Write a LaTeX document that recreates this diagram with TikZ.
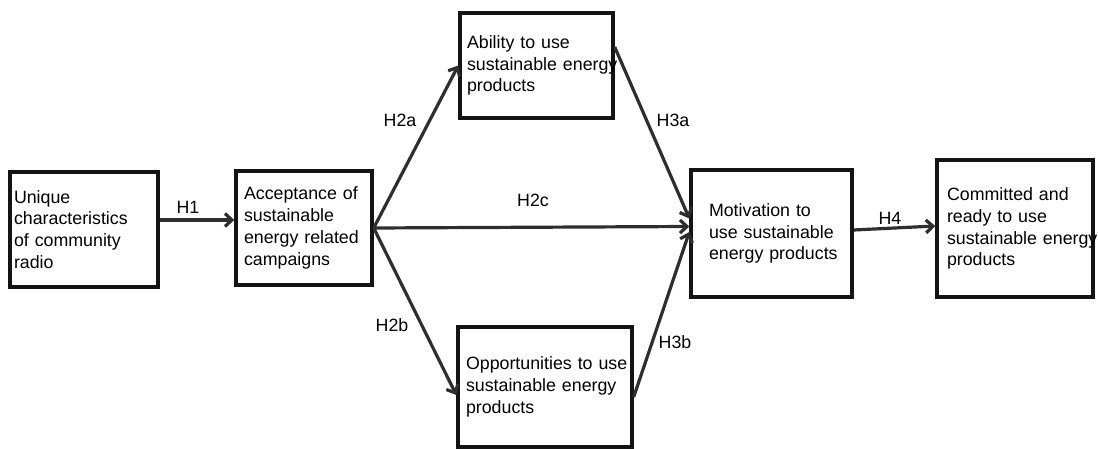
\documentclass[tikz,border=0pt]{standalone}
\usepackage{fontspec}
\setmainfont{Liberation Sans}
\usetikzlibrary{arrows.meta,positioning,calc}
\hyphenpenalty=10000
\exhyphenpenalty=10000
\definecolor{cB}{HTML}{141414}
\definecolor{cG}{HTML}{2e2e2e}
\tikzset{
  cbox/.style={rectangle,draw=cB,line width=3.4pt,fill=white,align=left,
              inner ysep=0pt,font=\fontsize{17.8}{21.8}\selectfont},
  hyparrow/.style={-{Straight Barb[length=7pt,width=13pt]},line width=3.2pt,cG},
  hlabel/.style={inner sep=0pt,font=\fontsize{17.8}{21.8}\selectfont},
}
\begin{document}
\begin{tikzpicture}[x=1pt,y=1pt]
  \useasboundingbox (0,0) rectangle (1098,448);
  \node[cbox,minimum width=148pt,minimum height=115pt,inner xsep=4pt,text width=140pt] (uniq) at (84,218.5) {Unique\\characteristics\\of~community\\radio};
  \node[cbox,minimum width=136pt,minimum height=114pt,inner xsep=8pt,text width=120pt] (accept) at (304,220) {Acceptance~of\\sustainable\\energy~related\\campaigns};
  \node[cbox,minimum width=153pt,minimum height=105pt,inner xsep=7pt,text width=139pt] (abil) at (536.5,382.5) {Ability~to~use\\sustainable~energy\\products};
  \node[cbox,minimum width=174pt,minimum height=120pt,inner xsep=8pt,text width=158pt] (oppo) at (545,61) {Opportunities~to~use\\sustainable~energy\\products};
  \node[cbox,minimum width=161pt,minimum height=127pt,inner xsep=18pt,text width=125pt] (motiv) at (771.5,214.5) {Motivation~to\\use~sustainable\\energy~products};
  \node[cbox,minimum width=156pt,minimum height=137pt,inner xsep=10pt,text width=136pt] (commit) at (1015,219.5) {Committed~and\\ready~to~use\\sustainable~energy\\products};
  % hypotheses
  \draw[hyparrow] ([yshift=9.5pt]uniq.east) -- ([yshift=8pt]accept.west);
  \draw[hyparrow] (accept.east) -- (abil.west);
  \draw[hyparrow] (accept.east) -- ([yshift=7pt]motiv.west);
  \draw[hyparrow] (accept.east) -- ([yshift=-8pt]oppo.west);
  \draw[hyparrow] ([yshift=18.5pt]abil.east) -- ([yshift=15pt]motiv.west);
  \draw[hyparrow] ([yshift=-10pt]oppo.east) -- ([yshift=1.5pt]motiv.west);
  \draw[hyparrow] ([yshift=3.5pt]motiv.east) -- ([yshift=2.5pt]commit.west);
  \node[hlabel] (h1) at (188,241) {H1};
  \node[hlabel] (h2a) at (400,328) {H2a};
  \node[hlabel] (h2c) at (533,248) {H2c};
  \node[hlabel] (h2b) at (392,123) {H2b};
  \node[hlabel] (h3a) at (673,328) {H3a};
  \node[hlabel] (h3b) at (675,106) {H3b};
  \node[hlabel] (h4) at (890,230) {H4};
\end{tikzpicture}
\end{document}
